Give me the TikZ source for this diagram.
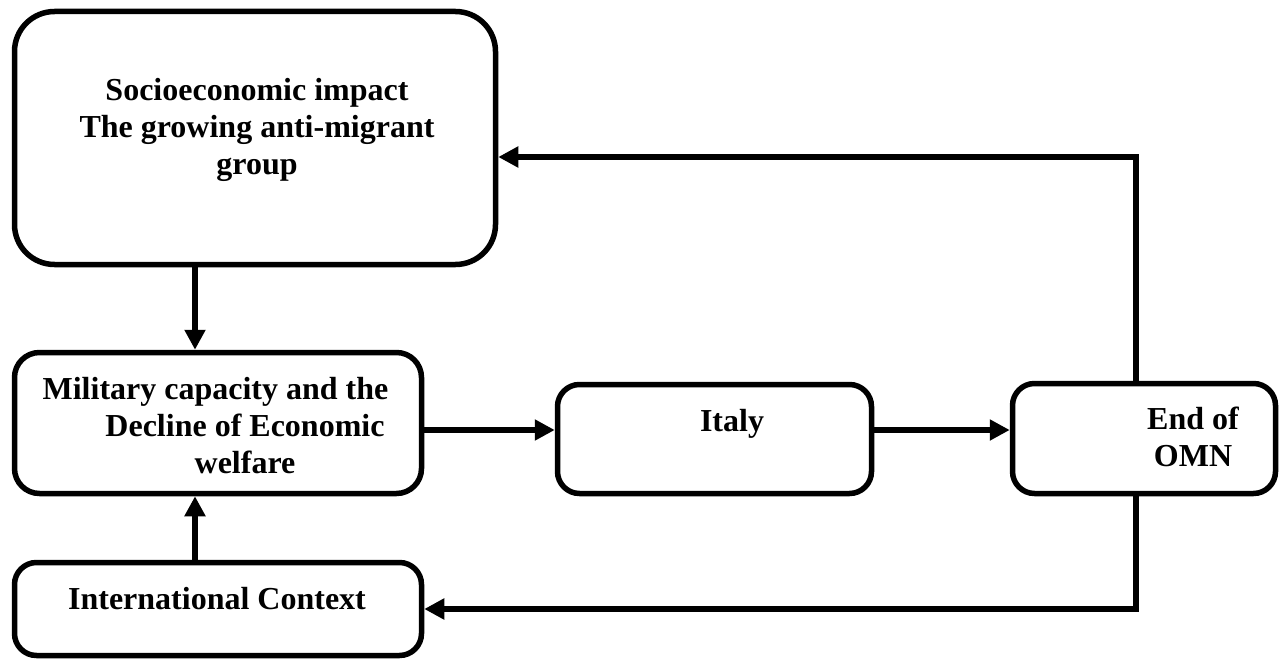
\documentclass[tikz,border=0pt]{standalone}
\usepackage{fontspec}
\setmainfont{Liberation Serif}
\usetikzlibrary{arrows.meta}
\begin{document}
\begin{tikzpicture}[x=1pt,y=-1pt,
  box/.style={draw=black,line width=5.5pt,fill=white,inner sep=0pt},
  lbl/.style={inner sep=0pt,font=\bfseries\fontsize{32}{37}\selectfont,align=center},
  arr/.style={line width=5.5pt,-{Triangle[length=20pt,width=20pt]}}]
\useasboundingbox (0,0) rectangle (1282,661);
% boxes
\node[box,rounded corners=40pt,minimum width=481pt,minimum height=253pt] (top) at (255,138) {};
\node[box,rounded corners=25pt,minimum width=407pt,minimum height=141pt] (mil) at (218,423) {};
\node[box,rounded corners=22pt,minimum width=407pt,minimum height=93pt] (intl) at (218,609) {};
\node[box,rounded corners=22pt,minimum width=314pt,minimum height=109pt] (italy) at (714.5,439) {};
\node[box,rounded corners=22pt,minimum width=263pt,minimum height=110pt] (end) at (1144,438.5) {};
% texts
\node[lbl] (toptxt) at (257,129.5) {Socioeconomic impact\\The growing anti-migrant\\group};
\node[lbl] (miltxt) at (215.5,426) {Military capacity and the\\\hspace*{59pt}Decline of Economic\\\hspace*{59pt}welfare};
\node[lbl,anchor=base] (intltxt) at (217,609) {International Context};
\node[lbl,anchor=base] (italytxt) at (732,431) {Italy};
\node[lbl] (endtxt) at (1193,436.5) {End of\\OMN};
% guide coordinates
\coordinate (colx) at (195,0);
\coordinate (rowy) at (0,430);
\coordinate (rx) at (1136,0);
\coordinate (ty) at (0,157);
\coordinate (by) at (0,609);
% connectors
\draw[arr] (top.south -| colx) -- (mil.north -| colx);
\draw[arr] (intl.north -| colx) -- (mil.south -| colx);
\draw[arr] (mil.east |- rowy) -- (italy.west |- rowy);
\draw[arr] (italy.east |- rowy) -- (end.west |- rowy);
\draw[arr] (end.north -| rx) |- (top.east |- ty);
\draw[arr] (end.south -| rx) |- (intl.east |- by);
\end{tikzpicture}
\end{document}
